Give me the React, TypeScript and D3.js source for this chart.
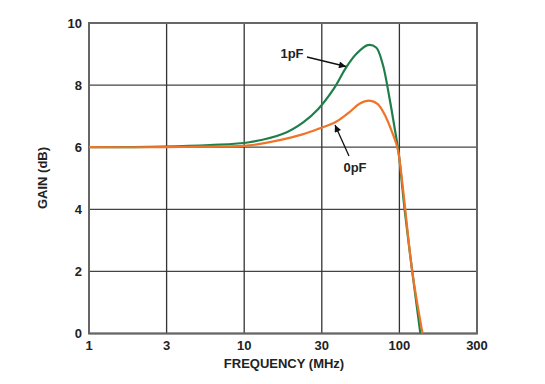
import { useEffect, useRef } from 'react';
import * as d3 from 'd3';

// frequency (MHz) and gain (dB)
const freq0 = [1, 3, 6, 10.8, 17.8, 24, 30, 39.1, 47.7, 55.3, 64.1, 72.6, 82, 90.6, 97.5, 105, 121, 141];
const gain0 = [6.0, 6.0, 6.02, 6.06, 6.25, 6.42, 6.59, 6.82, 7.13, 7.4, 7.5, 7.39, 6.96, 6.43, 5.95, 4.75, 2.0, 0];
const freq1 = [1, 3, 6, 10.8, 17.8, 24, 30, 38, 45.4, 52.7, 62.5, 70.8, 78.1, 86.2, 93.8, 99, 108, 121, 136.5];
const gain1 = [6.0, 6.02, 6.07, 6.16, 6.43, 6.8, 7.23, 7.9, 8.57, 9.0, 9.29, 9.21, 8.67, 7.6, 6.53, 5.8, 4.0, 2.0, 0];

const xTickLabels = ['1', '3', '10', '30', '100', '300'];
const yTicks = [0, 2, 4, 6, 8, 10];

const App = () => {
  const svgRef = useRef(null);

  useEffect(() => {
    const svg = d3.select(svgRef.current);
    svg.selectAll('*').remove();

    const width = 545;
    const height = 384;
    const left = 89, right = 477, top = 23, bottom = 333.5;
    const font = 'Liberation Sans, Arial, sans-serif';

    // grid ticks are evenly spaced: "3" sits at the half decade
    const x = d3.scaleLog().domain([1, Math.pow(10, 2.5)]).range([left, right]);
    const y = d3.scaleLinear().domain([0, 10]).range([bottom, top]);
    const xTickVals = xTickLabels.map((_, i) => Math.pow(10, i / 2));

    svg.attr('width', width).attr('height', height);

    // grid
    svg.append('g')
      .selectAll('line')
      .data(yTicks)
      .enter()
      .append('line')
      .attr('x1', left).attr('x2', right)
      .attr('y1', d => y(d)).attr('y2', d => y(d))
      .attr('stroke', '#444').attr('stroke-width', 1.3);

    svg.append('g')
      .selectAll('line')
      .data(xTickVals)
      .enter()
      .append('line')
      .attr('x1', d => x(d)).attr('x2', d => x(d))
      .attr('y1', top).attr('y2', bottom)
      .attr('stroke', '#333').attr('stroke-width', 1.3);

    svg.append('rect')
      .attr('x', left).attr('y', top)
      .attr('width', right - left).attr('height', bottom - top)
      .attr('fill', 'none').attr('stroke', '#666').attr('stroke-width', 2);

    // tick labels
    svg.append('g')
      .selectAll('text')
      .data(yTicks)
      .enter()
      .append('text')
      .attr('x', left - 7)
      .attr('y', d => y(d) + 4.5)
      .attr('text-anchor', 'end')
      .attr('font-family', font).attr('font-size', 13).attr('font-weight', 'bold')
      .attr('fill', '#222')
      .text(d => d);

    svg.append('g')
      .selectAll('text')
      .data(xTickLabels)
      .enter()
      .append('text')
      .attr('x', (d, i) => x(xTickVals[i]))
      .attr('y', bottom + 16)
      .attr('text-anchor', 'middle')
      .attr('font-family', font).attr('font-size', 13).attr('font-weight', 'bold')
      .attr('fill', '#222')
      .text(d => d);

    // axis titles
    svg.append('text')
      .attr('x', 284).attr('y', 368)
      .attr('text-anchor', 'middle')
      .attr('font-family', font).attr('font-size', 13).attr('font-weight', 'bold')
      .attr('fill', '#222')
      .text('FREQUENCY (MHz)');

    svg.append('text')
      .attr('transform', 'translate(47,178) rotate(-90)')
      .attr('text-anchor', 'middle')
      .attr('font-family', font).attr('font-size', 13).attr('font-weight', 'bold')
      .attr('fill', '#222')
      .text('GAIN (dB)');

    // curves
    const line = d3.line()
      .x(d => x(d[0]))
      .y(d => y(d[1]))
      .curve(d3.curveCatmullRom.alpha(0.5));

    svg.append('path')
      .attr('d', line(freq1.map((f, i) => [f, gain1[i]])))
      .attr('fill', 'none').attr('stroke', '#1f7f4a').attr('stroke-width', 2.2);

    svg.append('path')
      .attr('d', line(freq0.map((f, i) => [f, gain0[i]])))
      .attr('fill', 'none').attr('stroke', '#ee7428').attr('stroke-width', 2.2);

    // annotations with arrows
    const defs = svg.append('defs');
    defs.append('marker')
      .attr('id', 'arr')
      .attr('viewBox', '0 0 10 10')
      .attr('refX', 10).attr('refY', 5)
      .attr('markerWidth', 10).attr('markerHeight', 7)
      .attr('markerUnits', 'userSpaceOnUse')
      .attr('orient', 'auto')
      .append('path')
      .attr('d', 'M0,0 L10,5 L0,10 z')
      .attr('fill', '#111');

    svg.append('line')
      .attr('x1', 307).attr('y1', 57)
      .attr('x2', 346).attr('y2', 66.5)
      .attr('stroke', '#111').attr('stroke-width', 1.3)
      .attr('marker-end', 'url(#arr)');

    svg.append('line')
      .attr('x1', 349).attr('y1', 156)
      .attr('x2', 335).attr('y2', 125)
      .attr('stroke', '#111').attr('stroke-width', 1.3)
      .attr('marker-end', 'url(#arr)');

    svg.append('text')
      .attr('x', 292).attr('y', 58)
      .attr('text-anchor', 'middle')
      .attr('font-family', font).attr('font-size', 13).attr('font-weight', 'bold')
      .attr('fill', '#222')
      .text('1pF');

    svg.append('text')
      .attr('x', 355).attr('y', 172)
      .attr('text-anchor', 'middle')
      .attr('font-family', font).attr('font-size', 13).attr('font-weight', 'bold')
      .attr('fill', '#222')
      .text('0pF');
  }, []);

  return (
    <svg ref={svgRef} style={{ position: 'absolute', left: 0, top: 0, background: '#fff' }}></svg>
  );
};

export default App;
